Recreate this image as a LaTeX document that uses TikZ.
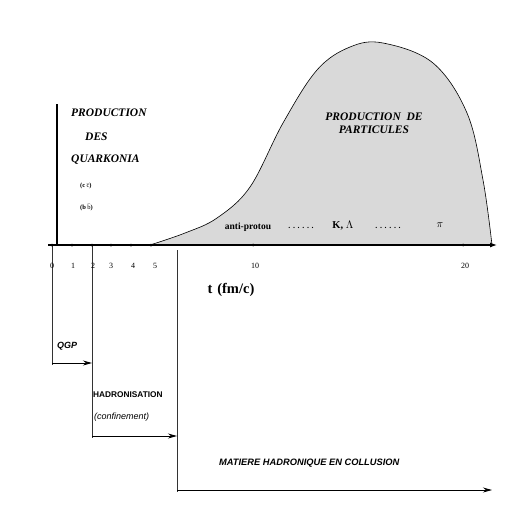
\documentclass[tikz,border=0pt]{standalone}
\usepackage{fontspec}
\setmainfont{Liberation Serif}
\setsansfont{Liberation Sans}
\usetikzlibrary{arrows.meta}
\begin{document}
\begin{tikzpicture}[x=1pt,y=-1pt,
  axisline/.style={line width=1.2pt,-{Latex[length=7pt,width=5pt]}},
  guide/.style={line width=0.5pt,black!80},
  timearrow/.style={line width=0.9pt,-{Stealth[length=9pt,width=5pt]}},
  tickdot/.style={circle,fill=black,inner sep=0pt,minimum size=3pt},
  ticklab/.style={font=\fontsize{8}{9}\selectfont,inner sep=0pt},
  titletext/.style={font=\fontsize{11.5}{13}\selectfont\bfseries\itshape,inner sep=0pt},
  sanslab/.style={font=\sffamily\fontsize{9}{10.5}\selectfont\bfseries\itshape,inner sep=0pt,anchor=west}]
\useasboundingbox (0,0) rectangle (526,522);
% shaded production curve
\fill[black!15] (150,245) plot[smooth,tension=0.6] coordinates {(150,245) (185,233) (217,218) (250,187) (283,123) (317,70) (350,47) (383,43) (433,63) (467,113) (483,180) (492,245)} -- cycle;
\draw[line width=0.6pt] plot[smooth,tension=0.6] coordinates {(150,245) (185,233) (217,218) (250,187) (283,123) (317,70) (350,47) (383,43) (433,63) (467,113) (483,180) (492,245)};
% guides
\coordinate (g0t) at (52,245); \coordinate (g0b) at (52,365);
\coordinate (g2t) at (92,245); \coordinate (g2b) at (92,438);
\coordinate (g6t) at (177,250); \coordinate (g6b) at (177,492);
\draw[guide] (g0t) -- (g0b);
\draw[guide] (g2t) -- (g2b);
\draw[guide] (g6t) -- (g6b);
% thick bar
\coordinate (bt) at (57,104); \coordinate (bb) at (57,245);
\draw[line width=2.6pt] (bt) -- (bb);
% axis
\coordinate (ax0) at (48,245); \coordinate (ax1) at (497,245);
\draw[axisline] (ax0) -- (ax1);
\foreach \x/\l/\lx in {52/0/52,72/1/73,92/2/93,111/3/111,131/4/133,151/5/155,253/10/255,463/20/465}{
  \node[tickdot] at (\x,245) {};
  \node[ticklab] at (\lx,266) {\l};
}
\node[font=\fontsize{14.5}{16}\selectfont\bfseries,inner sep=0pt] (tlab) at (231,290) {t\,\,(fm/c)};
% quarkonia
\node[titletext,anchor=west] (p1) at (71,113) {PRODUCTION};
\node[titletext,anchor=west] (p2) at (85,137) {DES};
\node[titletext,anchor=west] (p3) at (71,160) {QUARKONIA};
\node[font=\fontsize{6.5}{7}\selectfont\bfseries,inner sep=0pt,anchor=west] (cc) at (80,186) {(c$\,\bar{\mathrm{c}}$)};
\node[font=\fontsize{6.5}{7}\selectfont\bfseries,inner sep=0pt,anchor=west] (bbq) at (80,207) {(b$\,\bar{\mathrm{b}}$)};
% particles
\node[titletext,align=center] (pp) at (374,123) {PRODUCTION\ \ DE\\PARTICULES};
\node[font=\fontsize{9.5}{10}\selectfont\bfseries,inner sep=0pt] (ap) at (248,227) {anti-protou};
\node[font=\fontsize{8}{9}\selectfont\bfseries,inner sep=0pt] (d1) at (301,228) {. . . . . .};
\node[font=\fontsize{10.5}{11}\selectfont\bfseries,inner sep=0pt] (kl) at (343,226) {K, $\Lambda$};
\node[font=\fontsize{8}{9}\selectfont\bfseries,inner sep=0pt] (d2) at (388,228) {. . . . . .};
\node[font=\fontsize{10.5}{11}\selectfont\bfseries,inner sep=0pt] (pi) at (440,225) {$\pi$};
% phases
\node[sanslab] (qgp) at (57,346) {QGP};
\draw[timearrow] (g0b |- 0,363) coordinate (qa) -- (g2b |- 0,363) coordinate (qb);
\node[sanslab,font=\sffamily\fontsize{8.3}{9.5}\selectfont\bfseries] (had) at (93,395) {HADRONISATION};
\node[sanslab,font=\sffamily\fontsize{9}{10}\selectfont\itshape] (conf) at (94,417) {(confinement)};
\draw[timearrow] (g2b |- 0,436) coordinate (ha) -- (g6b |- 0,436) coordinate (hb);
\node[sanslab,font=\sffamily\fontsize{9.3}{10.5}\selectfont\bfseries\itshape] (mat) at (219,463) {MATIERE HADRONIQUE EN COLLUSION};
\coordinate (me) at (492,490);
\draw[timearrow] (g6b |- 0,490) coordinate (ma) -- (me);
\end{tikzpicture}
\end{document}
